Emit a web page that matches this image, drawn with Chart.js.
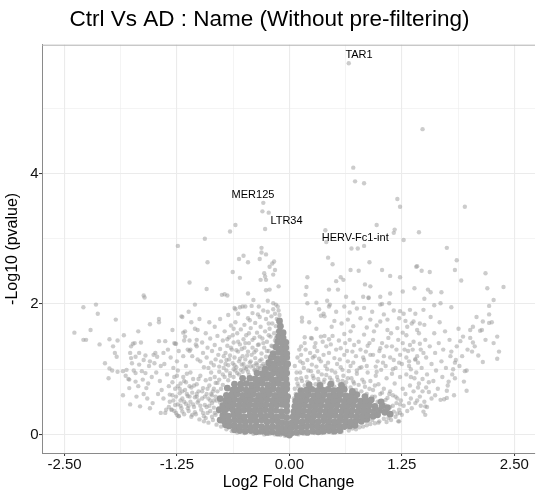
<!DOCTYPE html>
<html>
<head>
<meta charset="utf-8">
<script src="https://cdn.jsdelivr.net/npm/chart.js@4"></script>
<style>
  html, body { margin: 0; padding: 0; background: #fff; }
  canvas { display: block; }
</style>
</head>
<body>
<canvas id="volcano" width="539" height="497"></canvas>
<script>
// axis ticks (majors get labels, minors only get a thin grid line)
const xGrid = [-2.5, -1.875, -1.25, -0.625, 0, 0.625, 1.25, 1.875, 2.5];
const xMajor = [-2.5, -1.25, 0, 1.25, 2.5];
const yGrid = [0, 1, 2, 3, 4, 5];
const yMajor = [0, 2, 4];

// labelled genes
const labelGenes = ['TAR1', 'MER125', 'LTR34', 'HERV-Fc1-int'];
const labelFC = [0.66, -0.29, -0.27, 0.40];
const labelP = [5.69, 3.55, 3.15, 3.13];

// [log2FC, -log10 p], scattered genes
const spreadGenes = [
  // top, right side
  [0.66,5.69],[1.48,4.68],[0.71,4.09],[0.73,3.88],[0.83,3.85],[1.20,3.61],[1.23,3.49],[1.95,3.49],
  [0.97,3.21],[1.17,3.14],[1.16,3.09],[1.44,3.10],[0.40,3.13],[1.27,2.98],[0.41,2.95],[0.69,2.85],
  [0.76,2.85],[0.83,2.89],[1.75,2.86],[0.43,2.71],[0.48,2.61],[0.89,2.64],[1.86,2.67],[1.41,2.57],
  [1.42,2.58],[0.68,2.52],[0.77,2.51],[1.03,2.52],[1.84,2.52],[1.47,2.51],[1.56,2.49],[2.18,2.47],
  [0.57,2.41],[0.60,2.37],[0.52,2.35],[1.12,2.43],[1.23,2.41],[0.20,2.41],[0.84,2.30],[0.90,2.27],
  [1.91,2.36],[0.19,2.26],[0.44,2.22],[0.54,2.22],[2.20,2.24],[2.38,2.26],[1.26,2.19],[1.39,2.24],
  [1.54,2.22],[1.57,2.18],[1.69,2.18],[1.12,2.16],[0.18,2.14],[0.63,2.11],[0.82,2.11],[0.88,2.09],
  [1.01,2.11],[0.88,2.10],[1.50,2.08],[2.27,2.06],[0.42,2.05],[0.30,2.02],[0.20,2.01],[0.71,2.02],
  [1.68,2.01],[1.03,2.00],[1.61,1.98],[2.22,1.97],[0.44,1.96],[0.61,1.96],[1.80,1.95],[0.45,1.99],
  [0.83,1.94],[1.01,1.99],[1.11,2.01],[1.23,1.89],[1.34,1.91],[1.49,1.91],
  // top, left side
  [-0.29,3.55],[-0.30,3.42],[-0.23,3.40],[-0.27,3.15],[-0.60,3.21],[-0.66,3.11],[-0.94,3.00],[-1.24,2.89],
  [-0.31,2.86],[-0.26,2.76],[-0.31,2.79],[-0.51,2.74],[-0.56,2.69],[-0.33,2.69],[-0.91,2.64],[-0.46,2.64],
  [-0.17,2.65],[-0.19,2.62],[-0.22,2.57],[-0.16,2.52],[-0.63,2.49],[-0.28,2.47],[-0.18,2.45],[-0.27,2.42],
  [-0.55,2.40],[-0.32,2.37],[-0.26,2.37],[-1.11,2.33],[-0.12,2.27],[-0.92,2.23],[-0.26,2.21],[-0.22,2.22],
  [-0.46,2.16],[-0.75,2.14],[-0.69,2.13],[-0.72,2.15],[-1.62,2.13],[-1.61,2.10],[-0.40,2.06],[-0.24,2.05],
  [-0.18,2.01],[-0.15,1.99],[-1.05,1.99],[-2.15,1.99],[-0.52,1.96],[-0.61,1.94],[-0.42,1.97],[-0.34,1.96],
  [-0.13,1.96],[-2.29,1.95],[-0.60,1.92],[-0.55,1.95],[-0.49,1.96],
  // left, far out
  [-2.39,1.56],[-2.29,1.45],[-2.26,1.45],[-2.21,1.60],[-2.13,1.85],[-2.11,1.38],[-2.05,1.09],[-2.00,1.46],
  [-2.00,1.01],[-2.01,0.86],[-1.97,0.98],[-1.96,1.35],[-1.94,1.25],[-1.93,1.76],[-1.92,1.19],[-1.91,1.44],
  [-1.91,0.96],[-1.85,0.60],[-1.85,0.97],[-1.82,0.90],[-1.81,0.99],[-1.79,0.85],[-1.78,0.71],[-1.78,0.84],
  [-1.77,0.46],[-1.77,1.25],[-1.76,1.35],[-1.76,1.17],[-1.75,1.09],[-1.74,1.39],[-1.73,0.98],[-1.72,1.40],
  [-1.71,0.94],[-1.71,1.19],[-1.71,0.81],[-1.68,0.74],[-1.67,1.25],[-1.67,1.07],[-1.66,0.43],[-1.65,1.41],
  [-1.64,0.97],[-1.63,0.84],[-1.62,1.14],[-1.60,1.21],[-1.60,0.94],[-1.59,0.71],[-1.56,1.05],[-1.55,1.12],
  [-1.55,1.69],[-1.51,1.22],[-1.50,1.09],[-1.49,1.25],[-1.47,1.19],[-1.58,0.55],[-1.52,0.48],[-1.55,0.40],
  [-1.62,0.62],[-1.70,0.58],[-1.53,0.88],[-1.57,0.78],[-1.68,1.58],[-1.84,1.52],
  [-1.45,1.77],[-1.45,1.72],[-1.45,1.43],[-1.38,1.43],[-1.39,1.08],[-1.28,1.40],[-1.26,1.39],[-1.20,1.81],
  [-1.18,1.56],[-1.16,1.50],[-1.18,1.20],[-1.25,1.12],[-1.48,0.95],[-1.44,0.82],[-1.42,0.68],[-1.40,0.55],
  [-1.36,0.92],[-1.34,0.74],[-1.32,1.18],[-1.30,0.60],[-1.28,0.88],[-1.27,0.45],[-1.24,0.98],[-1.22,0.70],
  [-1.21,0.52],[-1.19,0.35],[-1.17,0.82],[-1.15,1.05],[-1.14,0.62],[-1.12,0.44],[-1.11,1.28],[-1.10,0.95],
  [-1.08,0.30],[-1.06,0.75],[-1.05,1.62],[-1.04,1.38],[-1.03,0.58],[-1.02,1.15],[-1.01,0.85],[-1.46,0.62],
  [-1.43,1.05],[-1.35,1.30],[-1.33,0.50],[-1.29,1.02],[-1.23,1.28],[-1.13,1.30],[-1.09,1.72],[-1.12,1.88],
  [-1.30,1.60],[-1.40,1.25],[-1.37,0.38],[-1.25,0.30],[-1.43,0.33],[-1.38,0.33],[-1.31,0.38],[-1.23,0.28],
  [-1.19,1.80],[-1.16,1.58],[-1.11,1.44],[-1.17,1.44],[-1.02,1.60],[-1.00,1.77],[-1.03,1.45],[-1.10,1.30],
  [-1.08,1.20],[-1.03,1.35],[-1.27,1.39],
  // left, mid height
  [-0.99,1.12],[-0.97,1.41],[-0.96,1.25],[-0.95,1.03],[-0.93,1.55],[-0.92,1.18],[-0.91,1.33],[-0.90,1.02],
  [-0.89,1.72],[-0.88,1.47],[-0.87,1.10],[-0.86,1.28],[-0.84,1.06],[-0.83,1.65],[-0.83,1.37],[-0.82,1.15],
  [-0.80,1.51],[-0.79,1.22],[-0.78,1.04],[-0.77,1.77],[-0.77,1.31],[-0.76,1.12],
  [-0.74,1.44],[-0.73,1.02],[-0.72,1.58],[-0.71,1.25],[-0.70,1.14],[-0.69,1.36],[-0.68,1.83],[-0.68,1.06],
  [-0.67,1.49],[-0.66,1.21],[-0.65,1.67],[-0.64,1.30],[-0.63,1.09],[-0.62,1.41],[-0.61,1.18],[-0.60,1.72],
  [-0.59,1.03],[-0.58,1.55],[-0.57,1.27],[-0.56,1.12],[-0.55,1.38],[-0.54,1.61],[-0.53,1.07],[-0.52,1.20],
  [-0.51,1.46],[-0.50,1.33],
  [-0.49,1.15],[-0.48,1.52],[-0.47,1.04],[-0.46,1.78],[-0.46,1.27],[-0.45,1.40],[-0.44,1.10],[-0.43,1.63],
  [-0.42,1.22],[-0.41,1.86],[-0.41,1.33],[-0.40,1.05],[-0.39,1.48],[-0.38,1.71],[-0.38,1.17],[-0.37,1.29],
  [-0.36,1.56],[-0.35,1.02],[-0.35,1.84],[-0.34,1.38],[-0.33,1.13],[-0.32,1.65],[-0.31,1.24],[-0.30,1.47],
  [-0.29,1.90],[-0.29,1.08],[-0.28,1.33],[-0.27,1.58],[-0.26,1.19],[-0.26,1.77],
  [-0.25,1.42],[-0.24,1.05],[-0.24,1.88],[-0.23,1.28],[-0.22,1.62],[-0.22,1.14],[-0.21,1.50],[-0.20,1.81],
  [-0.20,1.36],[-0.19,1.70],[-0.18,1.92],[-0.18,1.23],[-0.17,1.55],[-0.16,1.44],[-0.16,1.85],[-0.15,1.66],
  [-0.14,1.77],[-0.13,1.58],[-0.12,1.90],[-0.12,1.72],[-0.11,1.83],
  [-0.73,1.20],[-0.71,1.08],[-0.69,1.46],[-0.67,1.15],[-0.65,1.33],[-0.63,1.52],[-0.61,1.06],[-0.59,1.29],
  [-0.57,1.42],[-0.55,1.16],[-0.53,1.31],[-0.51,1.08],[-0.49,1.40],[-0.47,1.21],[-0.45,1.55],[-0.43,1.12],
  [-0.41,1.45],[-0.39,1.26],[-0.37,1.09],[-0.35,1.37],[-0.33,1.50],[-0.31,1.15],[-0.29,1.40],[-0.27,1.05],
  [-0.25,1.28],[-0.23,1.52],[-0.21,1.12],[-0.19,1.35],[-0.17,1.20],[-0.15,1.48],[-0.57,1.85],[-0.44,1.75],
  [-0.33,1.80],[-0.23,1.70],[-0.50,1.68],[-0.62,1.62],
  // left, around the dense core
  [-1.34,0.42],[-1.33,0.61],[-1.31,0.38],[-1.30,0.80],[-1.29,0.52],[-1.27,0.70],[-1.26,0.33],[-1.25,0.90],
  [-1.24,0.46],[-1.23,0.28],[-1.22,0.63],[-1.21,0.78],[-1.20,0.40],[-1.19,0.55],[-1.18,0.88],[-1.17,0.31],
  [-1.16,0.68],[-1.15,0.47],[-1.14,0.93],[-1.13,0.59],[-1.12,0.36],[-1.11,0.74],[-1.10,0.50],[-1.09,0.27],
  [-1.08,0.64],[-1.07,0.85],[-1.06,0.42],[-1.05,0.57],[-1.04,0.31],[-1.03,0.77],[-1.02,0.49],[-1.01,0.66],
  [-1.00,0.23],[-0.99,0.90],[-0.98,0.38],[-0.97,0.55],[-0.96,0.71],[-0.95,0.20],[-0.94,0.45],[-0.93,0.83],
  [-0.92,0.62],[-0.91,0.33],[-0.90,0.18],[-0.89,0.75],[-0.88,0.52],[-0.87,0.95],[-0.86,0.27],[-0.85,0.66],
  [-0.84,0.41],[-0.83,0.88],[-0.82,0.58],[-0.81,0.15],[-0.80,0.79],[-0.79,0.35],[-0.78,0.96],[-0.77,0.49],
  [-0.76,0.70],[-0.74,0.92],[-0.70,0.98],[-0.66,0.90],[-0.62,1.00],[-0.58,0.94],[-0.54,0.99],[-0.50,1.02],
  [-0.46,0.96],[-0.43,1.04],[-0.39,0.99],[-0.36,1.07],[-0.33,1.01],
  [-1.28,0.36],[-1.26,0.58],[-1.24,0.74],[-1.21,0.44],[-1.19,0.66],[-1.17,0.50],[-1.15,0.80],[-1.13,0.40],
  [-1.11,0.58],[-1.09,0.72],[-1.07,0.46],[-1.05,0.34],[-1.03,0.62],[-1.01,0.52],[-0.99,0.44],[-0.97,0.66],
  [-0.96,0.33],[-0.94,0.58],[-0.93,0.25],[-0.91,0.70],[-0.89,0.44],[-0.88,0.85],[-0.86,0.60],[-0.84,0.52],
  [-0.82,0.30],
  [-0.95,0.28],[-0.92,0.42],[-0.90,0.55],[-0.88,0.36],[-0.87,0.62],[-0.86,0.48],[-0.85,0.22],[-0.84,0.70],
  [-0.83,0.33],[-0.82,0.79],[-0.81,0.52],[-0.80,0.66],[-0.78,0.84],[-0.76,0.12],[-0.74,0.76],[-0.72,0.88],
  [-0.70,0.08],[-0.68,0.83],[-0.66,0.94],[-0.64,0.05],[-0.62,0.88],[-0.60,0.98],[-0.58,0.03],[-0.56,0.92],
  [-0.52,0.96],[-0.50,0.02],[-0.48,1.00],[-0.45,0.91],[-0.40,0.01],[-0.38,0.98],[-0.34,0.02],[-0.31,1.05],
  [-0.28,0.00],[-0.22,0.01],[-0.16,0.00],[-0.10,-0.01],[-0.05,-0.02],
  // right, mid height
  [0.14,1.79],[0.14,1.73],[0.22,1.72],[0.17,1.49],[0.25,1.47],[0.35,1.50],[0.39,1.51],[0.44,1.46],
  [0.35,1.82],[0.38,1.85],[0.39,1.81],[0.50,1.74],[0.65,1.76],[0.79,1.78],[0.90,1.76],[1.01,1.73],
  [1.09,1.76],[1.22,1.78],[1.29,1.74],[1.38,1.73],[0.24,1.48],[0.48,1.51],[0.61,1.54],[0.68,1.58],
  [0.83,1.53],[0.94,1.58],[1.09,1.60],[1.20,1.63],[1.31,1.65],[1.42,1.60],[0.13,1.35],[0.28,1.34],
  [0.41,1.35],[0.57,1.32],[0.72,1.37],[0.87,1.36],[1.01,1.32],[1.14,1.35],[1.34,1.37],[1.45,1.39],
  [0.13,1.22],[0.20,1.14],[0.28,1.20],[0.35,1.12],[0.44,1.25],[0.50,1.17],[0.61,1.22],[0.65,1.12],
  [0.74,1.20],[0.83,1.14],[0.90,1.22],[0.98,1.12],[1.05,1.20],[1.16,1.14],[1.23,1.22],[1.33,1.12],
  [1.42,1.20],[1.49,1.25],
  [0.06,1.05],[0.09,1.18],[0.11,1.30],[0.15,1.09],[0.17,1.40],[0.23,1.25],[0.25,1.07],[0.31,1.28],
  [0.33,1.16],[0.37,1.42],[0.40,1.05],[0.46,1.38],[0.53,1.08],[0.55,1.44],[0.62,1.40],[0.68,1.05],
  [0.70,1.27],[0.77,1.42],[0.80,1.03],[0.85,1.27],[0.93,1.45],[0.96,1.04],[1.03,1.40],[1.07,1.05],
  [1.10,1.48],[1.18,1.02],[1.21,1.45],[1.25,1.08],[1.28,1.30],[1.35,1.00],[1.40,1.15],
  [0.30,1.62],[0.33,1.92],[0.47,1.65],[0.52,1.88],[0.58,1.70],[0.67,1.87],[0.71,1.66],[0.75,1.93],
  [0.86,1.64],[0.92,1.88],[0.97,1.67],[1.05,1.84],[1.13,1.55],[1.16,1.90],[1.26,1.56],[1.40,1.85],
  [1.45,1.70],
  [0.08,0.95],[0.12,1.12],[0.18,1.30],[0.21,0.98],[0.26,1.18],[0.29,1.40],[0.32,0.96],[0.38,1.22],
  [0.43,1.10],[0.47,0.98],[0.52,1.30],[0.56,1.15],[0.59,0.99],[0.64,1.28],[0.67,1.45],[0.71,1.10],
  [0.75,0.98],[0.79,1.30],[0.82,1.18],[0.86,1.05],[0.89,1.40],[0.93,1.22],[0.97,0.96],[1.00,1.28],
  [1.04,1.10],[1.08,1.35],[1.12,1.18],[1.15,1.00],[1.19,1.30],[1.22,1.10],[1.26,1.40],[1.30,1.18],
  [1.37,1.30],[1.43,1.10],
  // right, far out
  [2.33,1.27],[2.31,1.50],[2.31,1.16],[2.15,1.11],[2.22,1.71],[2.25,1.72],[2.15,1.73],[2.12,1.59],
  [2.14,1.60],[2.22,1.84],[2.04,1.65],[2.01,1.60],[1.98,1.30],[2.03,1.27],[2.01,1.48],[2.04,1.41],
  [1.90,1.43],[1.95,0.97],[1.97,0.98],[1.94,0.81],[1.97,0.67],[1.84,0.86],[1.84,1.10],[1.85,1.14],
  [1.80,1.27],[1.82,1.00],[1.77,0.81],[1.75,0.67],[1.72,0.54],[1.75,0.56],[1.68,0.53],[1.83,0.60],
  [1.27,1.85],[1.30,1.52],[1.32,1.28],[1.33,1.05],[1.35,0.88],[1.36,1.70],[1.38,1.42],[1.40,1.15],
  [1.41,0.95],[1.43,0.72],[1.44,1.55],[1.46,1.30],[1.47,1.02],[1.48,0.85],[1.50,1.68],[1.51,1.45],
  [1.52,1.18],[1.53,0.92],[1.55,0.65],[1.56,1.35],[1.57,1.80],[1.58,1.08],[1.60,0.82],[1.61,1.55],
  [1.62,1.25],[1.63,0.98],[1.65,0.70],[1.66,1.40],[1.67,1.72],[1.69,1.12],[1.70,0.88],[1.71,1.30],
  [1.73,1.58],[1.74,1.02],[1.76,0.75],[1.78,1.45],[1.79,1.20],[1.81,0.92],[1.86,1.35],[1.88,1.62],
  [1.89,1.05],[1.92,1.20],[1.93,1.50],[2.06,1.35],[2.08,1.80],[2.10,1.21],[2.18,1.45],[2.27,1.40],
  [1.58,0.55],[1.62,0.60],[1.45,0.58],[1.50,0.50],[1.40,0.48],[1.35,0.55],[1.53,0.42],[1.51,0.30],
  [1.51,0.43],[1.23,0.33],[1.22,0.20],
  // right, around the dense core
  [0.07,0.62],[0.08,0.85],[0.10,0.74],[0.12,0.95],[0.14,0.82],[0.16,1.02],[0.19,0.88],[0.22,0.79],
  [0.24,0.97],[0.27,0.86],[0.30,1.04],[0.33,0.80],[0.36,0.92],[0.39,0.84],[0.42,1.00],[0.45,0.87],
  [0.48,0.79],[0.51,0.95],[0.54,0.83],[0.57,1.03],[0.60,0.90],[0.63,0.80],[0.66,0.97],[0.69,0.86],
  [0.72,0.78],[0.75,0.93],[0.78,1.02],[0.81,0.84],[0.84,0.73],[0.87,0.95],[0.90,0.82],[0.93,0.68],
  [0.96,0.90],[0.99,0.77],[1.02,0.99],[1.05,0.70],[1.08,0.86],[1.11,0.62],[1.14,0.93],[1.17,0.78],
  [1.20,0.55],[1.23,0.88],[1.26,0.70],
  [0.92,0.22],[0.94,0.40],[0.95,0.58],[0.97,0.30],[0.99,0.18],[1.00,0.50],[1.02,0.36],[1.03,0.64],
  [1.05,0.24],[1.06,0.45],[1.08,0.19],[1.09,0.56],[1.10,0.32],[1.12,0.42],[1.13,0.22],[1.15,0.60],
  [1.16,0.35],[1.18,0.27],[1.19,0.48],[1.21,0.20],[1.22,0.38],[1.24,0.52],[1.25,0.30],[1.27,0.44],
  [1.29,0.62],[1.31,0.36],[1.33,0.48],[1.36,0.40],[1.38,0.66],[1.42,0.52],[1.46,0.44],[1.49,0.35],
  [1.52,0.72],[1.55,0.80],[1.48,0.66],[1.44,0.78],[1.39,0.86],[1.34,0.75],[1.30,0.92],
  [0.05,0.55],[0.06,0.70],[0.09,0.78],[0.11,0.68],[0.13,0.86],[0.17,0.75],[0.20,0.81],[0.23,0.72],
  [0.26,0.90],[0.29,0.77],[0.32,0.85],[0.35,0.74],[0.38,0.80],[0.41,0.91],[0.44,0.76],[0.47,0.83],
  [0.50,0.73],[0.53,0.88],[0.56,0.77],[0.59,0.82],[0.62,0.74],[0.65,0.86],[0.68,0.72],[0.71,0.81],
  [0.74,0.68],[0.77,0.76],[0.80,0.66],[0.83,0.80],[0.86,0.62],[0.89,0.70],[0.92,0.58],[0.95,0.75],
  [0.98,0.50],[1.01,0.62],[1.04,0.42],[1.07,0.53],[1.10,0.25],[1.12,0.66],[1.15,0.44],[1.18,0.58],
  [1.20,0.32],[1.23,0.46],[0.66,0.06],[0.70,0.09],[0.74,0.08],[0.78,0.11],[0.82,0.12],[0.86,0.14],
  [0.90,0.16],[0.95,0.17],[1.00,0.20],[0.04,0.01],[0.10,0.00],[0.16,0.01],[0.28,0.02],[0.36,0.02],
  [0.48,0.03],[0.58,0.04]
];

// [log2FC, -log10 p] of the heavily overplotted centre
const denseGenes = [
  // left cloud
  [-0.61,0.07],[-0.55,0.06],[-0.49,0.05],[-0.43,0.06],[-0.37,0.04],[-0.31,0.05],[-0.25,0.03],[-0.19,0.04],
  [-0.13,0.02],[-0.08,0.03],[-0.03,0.01],[0.00,-0.01],
  [-0.71,0.15],[-0.67,0.13],[-0.61,0.14],[-0.55,0.12],[-0.49,0.13],[-0.43,0.11],[-0.37,0.13],[-0.31,0.12],
  [-0.25,0.10],[-0.19,0.12],[-0.13,0.11],[-0.08,0.09],[-0.03,0.08],
  [-0.77,0.22],[-0.73,0.21],[-0.67,0.20],[-0.61,0.22],[-0.55,0.21],[-0.49,0.19],[-0.43,0.21],[-0.37,0.20],
  [-0.31,0.22],[-0.25,0.19],[-0.19,0.21],[-0.13,0.20],[-0.08,0.18],[-0.03,0.17],
  [-0.74,0.29],[-0.68,0.28],[-0.62,0.30],[-0.56,0.29],[-0.50,0.27],[-0.44,0.29],[-0.38,0.28],
  [-0.32,0.30],[-0.26,0.28],[-0.20,0.29],[-0.14,0.27],[-0.08,0.28],[-0.03,0.26],
  [-0.78,0.38],[-0.72,0.36],[-0.69,0.40],[-0.63,0.38],[-0.57,0.36],[-0.51,0.37],[-0.45,0.38],[-0.39,0.36],
  [-0.33,0.37],[-0.27,0.38],[-0.21,0.36],[-0.15,0.37],[-0.09,0.35],[-0.03,0.36],
  [-0.74,0.44],[-0.68,0.45],[-0.62,0.46],[-0.56,0.44],[-0.50,0.45],[-0.44,0.46],[-0.38,0.44],
  [-0.32,0.45],[-0.26,0.46],[-0.20,0.44],[-0.14,0.45],[-0.08,0.46],[-0.03,0.44],
  [-0.77,0.55],[-0.71,0.52],[-0.67,0.53],[-0.61,0.54],[-0.55,0.52],[-0.49,0.53],[-0.43,0.54],[-0.37,0.52],
  [-0.31,0.53],[-0.25,0.54],[-0.19,0.52],[-0.13,0.53],[-0.08,0.54],[-0.03,0.52],
  [-0.70,0.60],[-0.64,0.61],[-0.58,0.62],[-0.52,0.60],[-0.46,0.61],[-0.40,0.62],[-0.34,0.60],
  [-0.28,0.61],[-0.22,0.62],[-0.16,0.60],[-0.10,0.61],[-0.05,0.62],[-0.02,0.58],
  [-0.69,0.71],[-0.63,0.68],[-0.60,0.69],[-0.54,0.70],[-0.48,0.68],[-0.42,0.69],[-0.36,0.70],[-0.30,0.68],
  [-0.24,0.69],[-0.18,0.70],[-0.12,0.68],[-0.07,0.69],[-0.03,0.70],
  [-0.61,0.77],[-0.54,0.77],[-0.48,0.78],[-0.42,0.76],[-0.36,0.77],[-0.30,0.78],[-0.24,0.76],
  [-0.18,0.77],[-0.12,0.78],[-0.07,0.76],[-0.03,0.77],
  [-0.52,0.86],[-0.44,0.86],[-0.38,0.85],[-0.32,0.84],[-0.26,0.86],[-0.20,0.85],[-0.14,0.84],
  [-0.09,0.86],[-0.04,0.85],
  [-0.36,0.94],[-0.30,0.93],[-0.24,0.92],[-0.18,0.94],[-0.12,0.93],[-0.07,0.92],[-0.03,0.94],
  // left spike
  [-0.27,1.00],[-0.21,1.02],[-0.15,1.01],[-0.09,1.00],[-0.04,1.02],
  [-0.23,1.10],[-0.17,1.08],[-0.11,1.09],[-0.06,1.10],[-0.02,1.08],
  [-0.20,1.18],[-0.14,1.16],[-0.08,1.17],[-0.03,1.18],
  [-0.18,1.24],[-0.12,1.26],[-0.07,1.25],[-0.03,1.24],
  [-0.15,1.34],[-0.09,1.32],[-0.04,1.33],
  [-0.13,1.42],[-0.08,1.40],[-0.04,1.41],
  [-0.12,1.50],[-0.07,1.48],
  [-0.11,1.58],[-0.07,1.56],
  [-0.10,1.66],[-0.11,1.74],
  // right cloud
  [0.02,0.02],[0.08,0.03],[0.14,0.04],[0.20,0.03],[0.26,0.05],[0.32,0.04],[0.38,0.05],[0.44,0.06],
  [0.50,0.05],[0.56,0.06],
  [0.02,0.10],[0.07,0.12],[0.13,0.11],[0.19,0.12],[0.25,0.13],[0.31,0.12],[0.37,0.11],[0.43,0.13],
  [0.49,0.12],[0.55,0.13],[0.61,0.12],[0.67,0.13],[0.73,0.14],
  [0.03,0.18],[0.08,0.20],[0.14,0.19],[0.20,0.21],[0.26,0.20],[0.32,0.19],[0.38,0.21],[0.44,0.20],
  [0.50,0.19],[0.56,0.21],[0.62,0.20],[0.68,0.19],[0.74,0.21],[0.80,0.20],[0.86,0.23],
  [0.04,0.27],[0.09,0.28],[0.15,0.29],[0.21,0.27],[0.27,0.28],[0.33,0.29],[0.39,0.27],[0.45,0.28],
  [0.51,0.29],[0.57,0.27],[0.63,0.28],[0.69,0.29],[0.75,0.27],[0.81,0.28],[0.87,0.29],[0.93,0.28],[0.98,0.30],
  [0.05,0.35],[0.10,0.36],[0.16,0.37],[0.22,0.35],[0.28,0.36],[0.34,0.37],[0.40,0.35],[0.46,0.36],
  [0.52,0.37],[0.58,0.35],[0.64,0.36],[0.70,0.37],[0.76,0.35],[0.82,0.36],[0.88,0.37],[0.94,0.35],[1.00,0.37],
  [1.06,0.34],[1.12,0.31],
  [0.06,0.43],[0.11,0.44],[0.17,0.45],[0.23,0.43],[0.29,0.44],[0.35,0.45],[0.41,0.43],[0.47,0.44],
  [0.53,0.45],[0.59,0.43],[0.65,0.44],[0.71,0.45],[0.77,0.43],[0.83,0.44],[0.89,0.45],[0.95,0.43],
  [1.03,0.44],[1.09,0.41],
  [0.07,0.51],[0.13,0.52],[0.19,0.53],[0.25,0.51],[0.31,0.52],[0.37,0.53],[0.43,0.51],[0.49,0.52],
  [0.55,0.53],[0.61,0.51],[0.67,0.52],[0.73,0.53],[0.79,0.51],[0.85,0.52],[0.91,0.53],[1.02,0.50],
  [0.09,0.59],[0.15,0.60],[0.21,0.61],[0.27,0.59],[0.33,0.60],[0.39,0.61],[0.45,0.59],[0.51,0.60],
  [0.57,0.61],[0.63,0.59],[0.69,0.60],[0.75,0.61],[0.84,0.58],
  [0.13,0.67],[0.19,0.68],[0.25,0.69],[0.31,0.67],[0.37,0.68],[0.43,0.69],[0.49,0.67],[0.55,0.68],
  [0.61,0.69],[0.70,0.66],
  [0.22,0.76],[0.34,0.75],[0.46,0.77],[0.58,0.75]
];

const FONT = '"Liberation Sans", Arial, Helvetica, sans-serif';
Chart.defaults.font.family = FONT;

const isMajorX = v => xMajor.includes(v);
const isMajorY = v => yMajor.includes(v);

// gene name labels plus the panel's top edge
const geneLabels = {
  id: 'geneLabels',
  afterDatasetsDraw(chart) {
    const { ctx, chartArea, scales } = chart;
    const offsets = [[-3.4, -8.3], [-31.7, -8.3], [5.3, -7.6], [-3.7, 7.6]];
    ctx.save();
    ctx.strokeStyle = '#b0b0b0';
    ctx.lineWidth = 1;
    ctx.beginPath();
    ctx.moveTo(chartArea.left, chartArea.top + 0.5);
    ctx.lineTo(chartArea.right, chartArea.top + 0.5);
    ctx.stroke();
    ctx.font = '11px ' + FONT;
    ctx.fillStyle = '#000';
    ctx.textAlign = 'left';
    ctx.textBaseline = 'middle';
    labelGenes.forEach((name, i) => {
      const px = scales.x.getPixelForValue(labelFC[i]);
      const py = scales.y.getPixelForValue(labelP[i]);
      ctx.fillText(name, px + offsets[i][0], py + offsets[i][1]);
    });
    ctx.restore();
  }
};

const ctx = document.getElementById('volcano').getContext('2d');
new Chart(ctx, {
  type: 'scatter',
  data: {
    datasets: [
      {
        data: spreadGenes.map(([x, y]) => ({ x, y })),
        pointRadius: 2.2,
        borderWidth: 0,
        backgroundColor: 'rgba(153,153,153,0.5)'
      },
      {
        data: denseGenes.map(([x, y]) => ({ x, y })),
        pointRadius: 3.4,
        borderWidth: 0,
        backgroundColor: '#9b9b9b'
      }
    ]
  },
  options: {
    responsive: false,
    animation: false,
    events: [],
    layout: { padding: 0 },
    plugins: {
      legend: { display: false },
      tooltip: { enabled: false },
      title: {
        display: true,
        text: 'Ctrl Vs AD : Name (Without pre-filtering)',
        color: '#000',
        font: { size: 22.5, weight: 'normal' },
        padding: { top: 6, bottom: 11.7 }
      }
    },
    scales: {
      x: {
        type: 'linear',
        min: -2.75,
        max: 2.73,
        afterBuildTicks: s => { s.ticks = xGrid.map(v => ({ value: v })); },
        afterFit: s => { s.height = 44; },
        ticks: {
          autoSkip: false,
          maxRotation: 0,
          padding: 0,
          color: '#111',
          font: { size: 15 },
          callback: v => isMajorX(v) ? v.toFixed(2) : ''
        },
        grid: {
          color: '#ebebeb',
          lineWidth: c => isMajorX(c.tick.value) ? 1.1 : 0.55,
          tickLength: 3,
          tickColor: c => isMajorX(c.tick.value) ? '#333' : 'rgba(0,0,0,0)',
          tickWidth: 1
        },
        border: { display: true, color: '#8a8a8a', width: 1 },
        title: {
          display: true,
          text: 'Log2 Fold Change',
          color: '#000',
          font: { size: 16 },
          padding: { top: 0, bottom: 5 }
        }
      },
      y: {
        type: 'linear',
        min: -0.285,
        max: 5.975,
        afterBuildTicks: s => { s.ticks = yGrid.map(v => ({ value: v })); },
        afterFit: s => { s.width = 42; },
        ticks: {
          autoSkip: false,
          padding: 0.5,
          color: '#111',
          font: { size: 15 },
          callback: v => isMajorY(v) ? String(v) : ''
        },
        grid: {
          color: '#ebebeb',
          lineWidth: c => isMajorY(c.tick.value) ? 1.1 : 0.55,
          tickLength: 3,
          tickColor: c => isMajorY(c.tick.value) ? '#333' : 'rgba(0,0,0,0)',
          tickWidth: 1
        },
        border: { display: true, color: '#8a8a8a', width: 1 },
        title: {
          display: true,
          text: '-Log10 (pvalue)',
          color: '#000',
          font: { size: 16 },
          padding: { top: 3.4, bottom: 0 }
        }
      }
    }
  },
  plugins: [geneLabels]
});
</script>
</body>
</html>
